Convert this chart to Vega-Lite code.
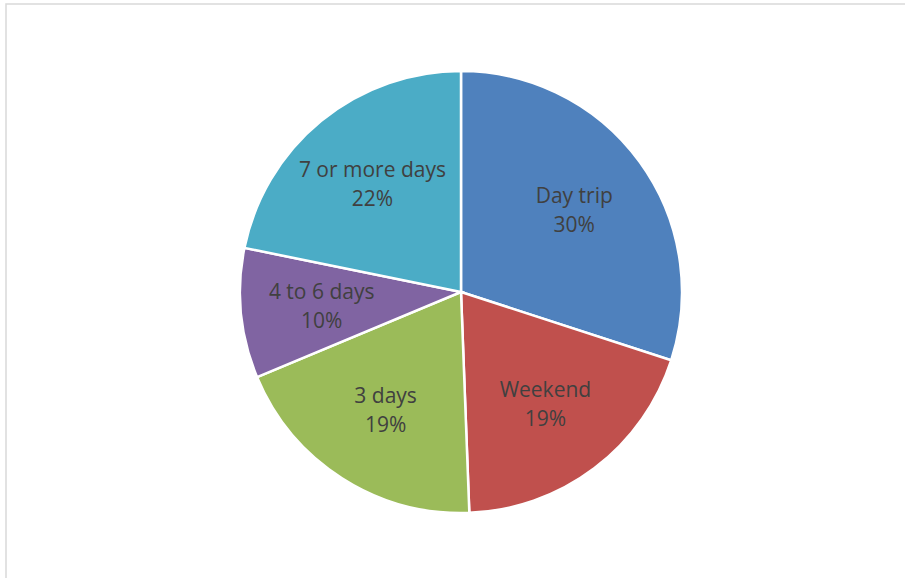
{
  "$schema": "https://vega.github.io/schema/vega-lite/v6.json",
  "width": 910,
  "height": 576,
  "autosize": {"type": "none"},
  "padding": {"left": 6, "top": 4, "right": 0, "bottom": 0},
  "background": "white",
  "config": {"view": {"stroke": null}},
  "layer": [
    {
      "data": {"values": [{"frame": 1}]},
      "mark": {"type": "rect", "fill": null, "stroke": "#D9D9D9", "strokeWidth": 1.5},
      "encoding": {}
    },
    {
      "data": {
        "values": [
          {"order": 1, "category": "Day trip", "value": 30.0, "pct": "30%"},
          {"order": 2, "category": "Weekend", "value": 19.4, "pct": "19%"},
          {"order": 3, "category": "3 days", "value": 19.3, "pct": "19%"},
          {"order": 4, "category": "4 to 6 days", "value": 9.5, "pct": "10%"},
          {"order": 5, "category": "7 or more days", "value": 21.8, "pct": "22%"}
        ]
      },
      "transform": [
        {"calculate": "datum.category + '\\n' + datum.pct", "as": "label"}
      ],
      "encoding": {
        "theta": {"field": "value", "type": "quantitative", "stack": true},
        "order": {"field": "order", "type": "quantitative"}
      },
      "layer": [
        {
          "mark": {"type": "arc", "outerRadius": 221, "stroke": "white", "strokeWidth": 2.5},
          "encoding": {
            "color": {
              "field": "category",
              "type": "nominal",
              "scale": {
                "domain": ["Day trip", "Weekend", "3 days", "4 to 6 days", "7 or more days"],
                "range": ["#4F81BD", "#C0504D", "#9BBB59", "#8064A2", "#4BACC6"]
              },
              "legend": null
            }
          }
        },
        {
          "mark": {
            "type": "text",
            "radius": 140,
            "dy": -13,
            "font": "Open Sans",
            "fontSize": 21,
            "color": "#404040",
            "lineBreak": "\n",
            "lineHeight": 29,
            "align": "center",
            "baseline": "middle"
          },
          "encoding": {
            "text": {"field": "label", "type": "nominal"}
          }
        }
      ]
    }
  ]
}
